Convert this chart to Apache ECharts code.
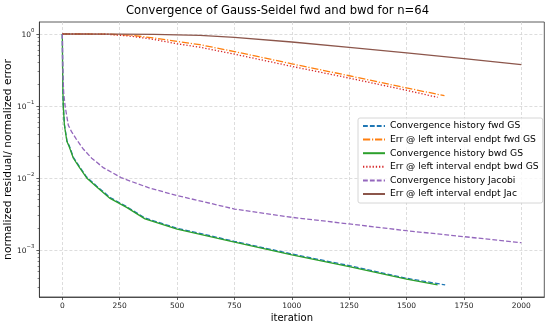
<!DOCTYPE html>
<html><head><meta charset="utf-8">
<script src="https://cdn.jsdelivr.net/npm/echarts@6/dist/echarts.min.js"></script>
<style>html,body{margin:0;padding:0;background:#fff}#c{width:555px;height:333px}</style>
</head><body><div id="c"></div>
<script>
// ---- data ----
const xTicks = [0, 250, 500, 750, 1000, 1250, 1500, 1750, 2000];
const yTicks = [0.001, 0.01, 0.1, 1];
const yMinorTicks = [2e-4,3e-4,4e-4,5e-4,6e-4,7e-4,8e-4,9e-4,
  2e-3,3e-3,4e-3,5e-3,6e-3,7e-3,8e-3,9e-3,
  2e-2,3e-2,4e-2,5e-2,6e-2,7e-2,8e-2,9e-2,
  2e-1,3e-1,4e-1,5e-1,6e-1,7e-1,8e-1,9e-1];

const fwdGSIter = [0,1,2,4,9,20,30,48,75,106,150,208,280,360,500,750,1000,1250,1500,1668];
const fwdGSRes  = [1,0.36,0.206,0.103,0.0556,0.033,0.028,0.0194,0.0143,0.0103,0.0077,0.00536,0.004,0.00278,0.002,0.00132,0.000879,0.000606,0.000404,0.000327];

const fwdErrIter = [0,100,200,300,400,500,600,750,1000,1250,1500,1665];
const fwdErr     = [1,1,0.995,0.96,0.88,0.79,0.71,0.57,0.385,0.263,0.178,0.139];

const bwdGSIter = [0,1,2,4,9,20,30,48,75,106,150,208,280,360,500,750,1000,1250,1500,1635];
const bwdGSRes  = [1,0.35,0.2,0.1,0.054,0.032,0.0272,0.0188,0.0139,0.01,0.0075,0.0052,0.0039,0.0027,0.00194,0.00128,0.000853,0.000588,0.000392,0.000327];

const bwdErrIter = [0,100,200,300,400,500,600,750,1000,1250,1500,1635];
const bwdErr     = [1,1,0.99,0.93,0.84,0.73,0.655,0.525,0.355,0.244,0.165,0.132];

const jacIter = [0,1,3,6,12,26,40,60,90,128,180,259,382,500,750,1000,1250,1500,1750,2000];
const jacRes  = [1,0.5,0.25,0.15,0.1,0.054,0.044,0.035,0.0255,0.0188,0.0138,0.01,0.0072,0.0057,0.0037,0.00284,0.0023,0.00185,0.00153,0.00126];

const jacErrIter = [0,250,400,500,600,750,1000,1250,1500,1750,2000];
const jacErr     = [1,0.998,0.99,0.975,0.955,0.895,0.774,0.652,0.547,0.456,0.375];

const names = ['Convergence history fwd GS','Err @ left interval endpt fwd GS','Convergence history bwd GS',
  'Err @ left interval endpt bwd GS','Convergence history Jacobi','Err @ left interval endpt Jac'];

// ---- chart ----
const FONT = 'DejaVu Sans';
const pair = (xs, ys) => xs.map((x, i) => [x, ys[i]]);
function mk(name, xs, ys, color, type) {
  return {
    name, type: 'line', data: pair(xs, ys), symbol: 'none', showSymbol: false,
    lineStyle: { color, width: 1.3, type }, itemStyle: { color },
    animation: false, clip: true, yAxisIndex: 0
  };
}
const yMin = 2.22e-4, yMax = 1.468;
const chart = echarts.init(document.getElementById('c'), null, { renderer: 'canvas' });
chart.setOption({
  backgroundColor: '#fff',
  animation: false,
  title: {
    text: 'Convergence of Gauss-Seidel fwd and bwd for n=64',
    left: 'center', top: 5, padding: 0,
    textStyle: { fontFamily: FONT, fontSize: 11.6, fontWeight: 'normal', color: '#000' }
  },
  grid: { left: 39.4, right: 10.7, top: 22, bottom: 36, show: true, borderColor: '#333', borderWidth: 0.8,
          containLabel: false, outerBoundsMode: 'none' },
  legend: {
    orient: 'vertical', left: 358, top: 118,
    data: names,
    itemWidth: 22, itemHeight: 10, itemGap: 3.6,
    padding: [3, 4, 4, 4],
    itemStyle: { opacity: 0 },
    borderColor: '#ccc', borderWidth: 0.8, borderRadius: 2,
    backgroundColor: 'rgba(255,255,255,0.8)',
    textStyle: { fontFamily: FONT, fontSize: 9.2, color: '#000', lineHeight: 10 }
  },
  xAxis: {
    type: 'value', min: -100, max: 2100,
    name: 'iteration', nameLocation: 'middle', nameGap: 16.5, nameMoveOverlap: false,
    nameTextStyle: { fontFamily: FONT, fontSize: 10, color: '#000' },
    axisLine: { show: true, onZero: false, lineStyle: { color: '#333', width: 0.8 } },
    axisTick: { show: true, customValues: xTicks, length: 3, lineStyle: { color: '#333', width: 0.8 } },
    axisLabel: { customValues: xTicks, margin: 5, fontFamily: FONT, fontSize: 7.5, color: '#222',
                 formatter: v => String(v) },
    splitLine: { show: true, customValues: xTicks, lineStyle: { color: '#d4d4d4', width: 0.8, type: [3, 2] } }
  },
  yAxis: [{
    type: 'log', logBase: 10, min: yMin, max: yMax, position: 'left',
    name: 'normalized residual/ normalized error', nameLocation: 'middle', nameGap: 26, nameMoveOverlap: false,
    nameTextStyle: { fontFamily: FONT, fontSize: 10.7, color: '#000' },
    axisLine: { show: true, onZero: false, lineStyle: { color: '#333', width: 0.8 } },
    axisTick: { show: true, customValues: yTicks, length: 3, lineStyle: { color: '#333', width: 0.8 } },
    axisLabel: {
      customValues: yTicks, margin: 5,
      formatter: v => {
        const e = Math.round(Math.log10(v));
        return '{b|10}{s|' + (e < 0 ? '\u2212' + (-e) : e) + '}';
      },
      rich: {
        b: { fontFamily: FONT, fontSize: 7.5, color: '#222', lineHeight: 11, verticalAlign: 'bottom' },
        s: { fontFamily: FONT, fontSize: 5.3, color: '#222', lineHeight: 7, verticalAlign: 'top' }
      }
    },
    splitLine: { show: true, customValues: yTicks, lineStyle: { color: '#d4d4d4', width: 0.8, type: [3, 2] } },
    minorTick: { show: false }
  }, {
    type: 'log', logBase: 10, min: yMin, max: yMax, position: 'left', offset: 0,
    axisLine: { show: false, onZero: false },
    axisTick: { show: true, customValues: yMinorTicks, length: 1.8, lineStyle: { color: '#333', width: 0.6 } },
    axisLabel: { show: false },
    splitLine: { show: false }
  }],
  series: [
    mk(names[0], fwdGSIter, fwdGSRes, '#1f77b4', [4.8, 2.1]),
    mk(names[1], fwdErrIter, fwdErr, '#ff7f0e', [7.2, 1.8, 1.2, 1.8]),
    mk(names[2], bwdGSIter, bwdGSRes, '#2ca02c', 'solid'),
    mk(names[3], bwdErrIter, bwdErr, '#d62728', [1.3, 1.9]),
    mk(names[4], jacIter, jacRes, '#9467bd', [4.8, 2.1]),
    mk(names[5], jacErrIter, jacErr, '#8c564b', 'solid')
  ]
});
</script>
</body></html>
